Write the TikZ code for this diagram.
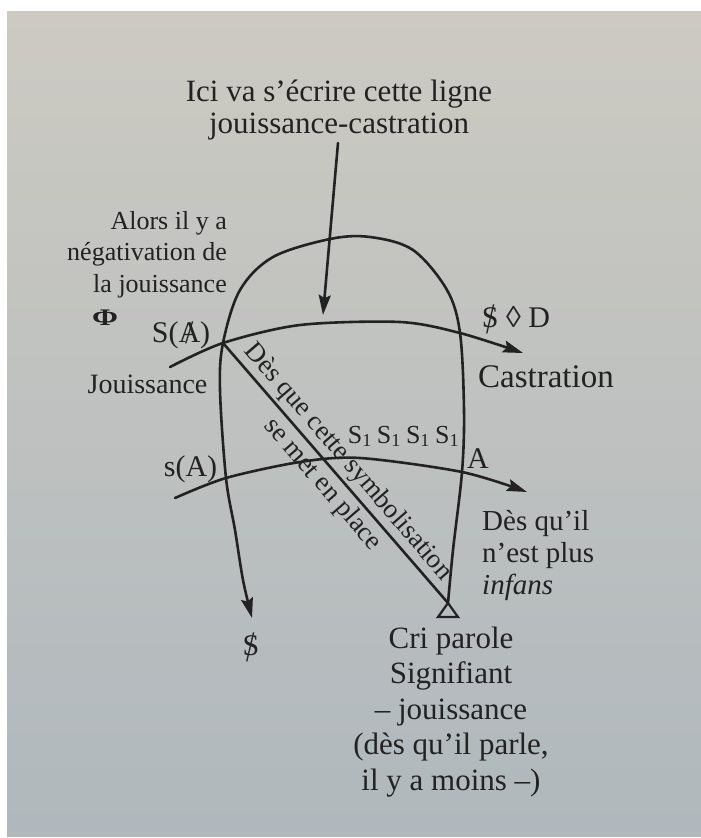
\documentclass[tikz,border=0pt]{standalone}
\usepackage{fontspec}
\setmainfont{Liberation Serif}
\usepackage{graphicx}
\usetikzlibrary{arrows.meta}
\definecolor{ink}{RGB}{34,34,34}
\definecolor{pagetop}{RGB}{204,202,194}
\definecolor{pagemid}{RGB}{197,199,195}
\definecolor{pagebot}{RGB}{176,184,189}
\newcommand{\barS}{\ooalign{S\cr\hidewidth\raisebox{-0.22em}{\scalebox{1.0}[1.45]{/}}\hidewidth\cr}}
\newcommand{\barA}{\ooalign{A\cr\hidewidth\raisebox{-0.05em}{\scalebox{1}[1.1]{/}}\hidewidth\cr}}
\begin{document}
\begin{tikzpicture}[x=1pt,y=-1pt,
  curve/.style={draw=ink, line width=2.6pt, line cap=round, line join=round},
  arrowend/.style={-{Stealth[length=20pt,width=12pt,inset=3pt]}},
  lbl/.style={text=ink, inner sep=0pt},
  fa/.style={font=\fontsize{26}{31.5}\selectfont},
  fb/.style={font=\fontsize{27}{32}\selectfont},
  fc/.style={font=\fontsize{28}{33}\selectfont},
  fd/.style={font=\fontsize{29}{32}\selectfont},
  fe/.style={font=\fontsize{30}{35}\selectfont},
  ff/.style={font=\fontsize{31}{32}\selectfont},
  fg/.style={font=\fontsize{31}{35.5}\selectfont},
  fh/.style={font=\fontsize{33}{38}\selectfont},
  fphi/.style={font=\fontsize{25}{28}\selectfont\bfseries}]
\useasboundingbox (0,0) rectangle (701,838);
\fill[white] (0,0) rectangle (701,838);
\shade[top color=pagetop, middle color=pagemid, bottom color=pagebot] (7,11) rectangle (701,836);

% key points
\coordinate (SA) at (223,343);
\coordinate (apex) at (448,603);
\coordinate (vs) at (338,143);
\coordinate (ve) at (323,315);

% labels
\node[lbl,ff,align=center] (top) at (339,109.8) {Ici va s’écrire cette ligne\\jouissance-castration};
\node[lbl,fa,align=right,anchor=east] (alors) at (227,254.4) {Alors il y a\\négativation de\\la jouissance};
\node[lbl,fphi] (phi) at (105,318) {\scalebox{1.25}[0.95]{Φ}};
\node[lbl,fe,anchor=base] (SAlabel) at (181,342) {S(\barA)};
\node[lbl,fc,anchor=base] (jouis) at (147.5,393) {Jouissance};
\node[lbl,fe,anchor=base] (sA) at (190.5,476) {s(A)};
\node[lbl,fe,anchor=base] (SD) at (516,327) {\barS\ ◊ D};
\node[lbl,fh,anchor=base] (castr) at (546,387) {Castration};
\node[lbl,fa,anchor=base] (S1) at (403.5,443) {S\textsubscript{1}\hspace{5pt}S\textsubscript{1}\hspace{5pt}S\textsubscript{1}\hspace{5pt}S\textsubscript{1}};
\node[lbl,fe,anchor=base] (A) at (478,468) {A};
\node[lbl,fd,align=left,anchor=west] (infans) at (482,555) {Dès qu’il\\n’est plus\\\textit{infans}};
\node[lbl,fe,anchor=base] (barSlow) at (251,655) {\barS};
\node[lbl,fg,align=center] (cri) at (451,711.8) {Cri parole\\Signifiant\\– jouissance\\(dès qu’il parle,\\il y a moins –)};

% arch: from triangle up, over the top, down to the arrow
\draw[curve,arrowend] plot[smooth, tension=0.55] coordinates {(448,603) (453,550) (462,472) (464,410) (460,333) (447,290) (413,250) (370,237) (330,239) (273,257) (240,290) (223,343) (220,390) (226,478) (235,530) (243,580) (252,618)};

% upper line Jouissance -> Castration
\draw[curve,arrowend] plot[smooth] coordinates {(170,367) (223,343) (300,325) (400,322) (460,333) (523,353)};

% lower line s(A) -> A
\draw[curve,arrowend] plot[smooth] coordinates {(175,498) (226,478) (300,462) (360,458) (462,472) (527,492)};

% vertical arrow from the top text
\draw[curve,arrowend] (vs) -- (ve);

% diagonal with its two labels
\draw[curve] (SA) -- (apex)
  node[lbl,fb,midway,sloped,above,inner sep=3pt] (d1) {Dès que cette symbolisation}
  node[lbl,fb,midway,sloped,below,inner sep=4pt] (d2) {se met en place};

% small triangle at the bottom
\draw[curve,line width=2.2pt,line join=miter] (apex) -- ++(-10,14) -- ++(20,0) -- cycle;
\end{tikzpicture}
\end{document}
